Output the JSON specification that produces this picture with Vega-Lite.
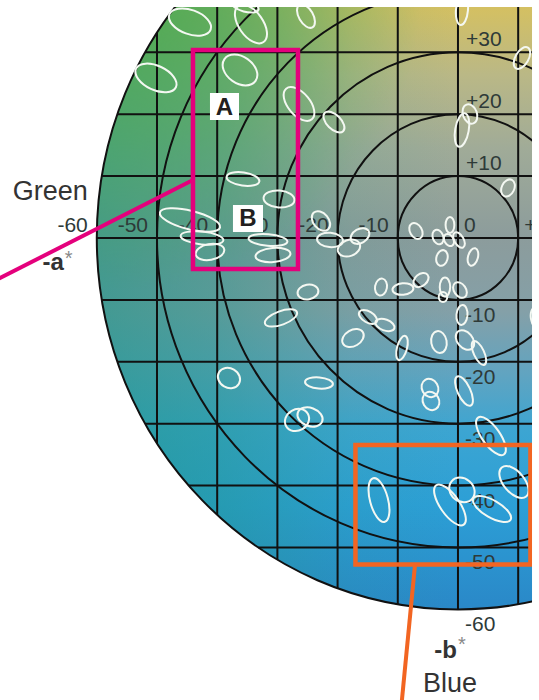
{
  "$schema": "https://vega.github.io/schema/vega-lite/v6.json",
  "width": 539,
  "height": 700,
  "autosize": {"type": "none"},
  "padding": 0,
  "background": "white",
  "config": {"view": {"stroke": null}, "axis": {"disable": true}, "legend": {"disable": true}},
  "resolve": {"scale": {"size": "independent", "shape": "independent", "angle": "independent"}},
  "datasets": {
    "disk": [{"a": 0, "b": 0, "r": 60}],
    "rings": [{"a": 0, "b": 0, "r": 10}, {"a": 0, "b": 0, "r": 20}, {"a": 0, "b": 0, "r": 30}, {"a": 0, "b": 0, "r": 40}, {"a": 0, "b": 0, "r": 50}, {"a": 0, "b": 0, "r": 60}],
    "vgrid": [
      {"a": -50, "b1": -33.17, "b2": 33.17}, {"a": -40, "b1": -44.72, "b2": 44.72}, {"a": -30, "b1": -51.96, "b2": 51.96},
      {"a": -20, "b1": -56.57, "b2": 56.57}, {"a": -10, "b1": -59.16, "b2": 59.16}, {"a": 0, "b1": -60, "b2": 60},
      {"a": 10, "b1": -59.16, "b2": 59.16}
    ],
    "hgrid": [
      {"b": 30, "a1": -51.96, "a2": 51.96}, {"b": 20, "a1": -56.57, "a2": 56.57}, {"b": 10, "a1": -59.16, "a2": 59.16},
      {"b": 0, "a1": -60, "a2": 60}, {"b": -10, "a1": -59.16, "a2": 59.16}, {"b": -20, "a1": -56.57, "a2": 56.57},
      {"b": -30, "a1": -51.96, "a2": 51.96}, {"b": -40, "a1": -44.72, "a2": 44.72}, {"b": -50, "a1": -33.17, "a2": 33.17}
    ],
    "aNeg": [{"a": -60, "b": 0, "t": "-60"}, {"a": -50, "b": 0, "t": "-50"}, {"a": -40, "b": 0, "t": "-40"}, {"a": -30, "b": 0, "t": "-30"}, {"a": -20, "b": 0, "t": "-20"}, {"a": -10, "b": 0, "t": "-10"}],
    "aPos": [{"a": 0, "b": 0, "t": "0"}, {"a": 10, "b": 0, "t": "+10"}],
    "bPos": [{"a": 0, "b": 10, "t": "+10"}, {"a": 0, "b": 20, "t": "+20"}, {"a": 0, "b": 30, "t": "+30"}],
    "bNeg": [{"a": 0, "b": -10, "t": "-10"}, {"a": 0, "b": -20, "t": "-20"}, {"a": 0, "b": -30, "t": "-30"}, {"a": 0, "b": -40, "t": "-40"}, {"a": 0, "b": -50, "t": "-50"}, {"a": 0, "b": -60, "t": "-60"}],
    "ell": [
      {"a": -44.52, "b": 34.89, "major": 7.21, "ratio": "0.55", "orient": -20},
      {"a": -34.39, "b": 34.57, "major": 7.21, "ratio": "0.55", "orient": -55},
      {"a": -35.38, "b": 37.48, "major": 4.59, "ratio": "0.4", "orient": -15},
      {"a": -25.25, "b": 35.86, "major": 4.26, "ratio": "0.55", "orient": -60},
      {"a": -50.17, "b": 25.85, "major": 7.21, "ratio": "0.55", "orient": -25},
      {"a": -36.21, "b": 27.14, "major": 6.23, "ratio": "0.7", "orient": -35},
      {"a": -26.41, "b": 21.65, "major": 6.56, "ratio": "0.55", "orient": -50},
      {"a": 0.66, "b": 36.83, "major": 4.92, "ratio": "0.4", "orient": 85},
      {"a": 10.63, "b": 29.08, "major": 3.93, "ratio": "0.55", "orient": 60},
      {"a": -20.6, "b": 18.74, "major": 4.26, "ratio": "0.55", "orient": -45},
      {"a": 1.99, "b": 20.03, "major": 3.28, "ratio": "0.7", "orient": -70},
      {"a": 0.66, "b": 17.45, "major": 5.57, "ratio": "0.4", "orient": 80},
      {"a": 8.31, "b": 8.08, "major": 2.95, "ratio": "0.7", "orient": 65},
      {"a": -35.71, "b": 9.53, "major": 5.41, "ratio": "0.4", "orient": -8},
      {"a": -29.73, "b": 6.3, "major": 5.08, "ratio": "0.55", "orient": -5},
      {"a": -44.52, "b": 2.91, "major": 10.16, "ratio": "0.3", "orient": -14},
      {"a": -42.52, "b": 0, "major": 7.05, "ratio": "0.3", "orient": -6},
      {"a": -41.2, "b": -2.26, "major": 4.75, "ratio": "0.55", "orient": 10},
      {"a": -31.56, "b": -0.32, "major": 6.39, "ratio": "0.3", "orient": -5},
      {"a": -30.73, "b": -2.75, "major": 5.74, "ratio": "0.4", "orient": 5},
      {"a": -22.76, "b": 2.75, "major": 3.61, "ratio": "0.7", "orient": -50},
      {"a": -21.26, "b": -0.32, "major": 4.26, "ratio": "0.55", "orient": -5},
      {"a": -18.11, "b": -1.62, "major": 3.77, "ratio": "0.7", "orient": 20},
      {"a": -16.28, "b": 0.32, "major": 3.28, "ratio": "0.7", "orient": 30},
      {"a": -6.98, "b": 1.13, "major": 2.79, "ratio": "0.7", "orient": -60},
      {"a": -3.32, "b": 0.16, "major": 2.46, "ratio": "0.7", "orient": -70},
      {"a": -1.33, "b": 2.1, "major": 2.62, "ratio": "0.55", "orient": -90},
      {"a": -1.5, "b": -0.32, "major": 2.13, "ratio": "0.7", "orient": -60},
      {"a": 0.17, "b": -0.32, "major": 2.79, "ratio": "0.55", "orient": -60},
      {"a": -2.66, "b": -3.23, "major": 2.62, "ratio": "0.7", "orient": 75},
      {"a": 2.49, "b": -3.07, "major": 2.95, "ratio": "0.55", "orient": 75},
      {"a": -12.79, "b": -7.92, "major": 2.79, "ratio": "0.7", "orient": 80},
      {"a": -9.14, "b": -8.24, "major": 3.44, "ratio": "0.55", "orient": 5},
      {"a": -6.15, "b": -6.79, "major": 2.79, "ratio": "0.7", "orient": 40},
      {"a": -2.16, "b": -7.92, "major": 3.11, "ratio": "0.55", "orient": 90},
      {"a": 0.33, "b": -8.4, "major": 2.79, "ratio": "0.7", "orient": -55},
      {"a": -2.49, "b": -9.53, "major": 1.64, "ratio": "0.85", "orient": 90},
      {"a": -24.92, "b": -8.72, "major": 3.44, "ratio": "0.7", "orient": 10},
      {"a": -29.4, "b": -12.92, "major": 5.57, "ratio": "0.4", "orient": 20},
      {"a": -14.95, "b": -12.76, "major": 3.28, "ratio": "0.55", "orient": -30},
      {"a": -12.13, "b": -14.05, "major": 3.28, "ratio": "0.55", "orient": -20},
      {"a": -17.44, "b": -16.16, "major": 3.77, "ratio": "0.7", "orient": 30},
      {"a": -9.3, "b": -17.77, "major": 4.1, "ratio": "0.4", "orient": 75},
      {"a": -3.16, "b": -16.8, "major": 3.61, "ratio": "0.7", "orient": -80},
      {"a": 0.66, "b": -12.44, "major": 3.28, "ratio": "0.55", "orient": 85},
      {"a": 1.16, "b": -16.48, "major": 3.61, "ratio": "0.7", "orient": -50},
      {"a": 3.49, "b": -18.58, "major": 4.26, "ratio": "0.4", "orient": -65},
      {"a": -38.04, "b": -22.62, "major": 3.77, "ratio": "0.85", "orient": -30},
      {"a": -23.09, "b": -23.42, "major": 4.59, "ratio": "0.4", "orient": -5},
      {"a": -4.65, "b": -24.23, "major": 3.11, "ratio": "0.85", "orient": -60},
      {"a": -4.49, "b": -26.33, "major": 3.11, "ratio": "0.85", "orient": -60},
      {"a": 1.0, "b": -24.72, "major": 5.25, "ratio": "0.4", "orient": -65},
      {"a": -26.74, "b": -29.4, "major": 4.1, "ratio": "0.85", "orient": 30},
      {"a": -24.58, "b": -28.92, "major": 4.26, "ratio": "0.7", "orient": -20},
      {"a": 5.48, "b": -31.99, "major": 7.38, "ratio": "0.4", "orient": -55},
      {"a": 9.3, "b": -39.42, "major": 6.23, "ratio": "0.55", "orient": -50},
      {"a": 0.66, "b": -40.71, "major": 4.43, "ratio": "0.85", "orient": -40},
      {"a": -1.33, "b": -43.13, "major": 7.87, "ratio": "0.4", "orient": -55},
      {"a": 5.65, "b": -43.78, "major": 7.05, "ratio": "0.4", "orient": -30},
      {"a": -13.12, "b": -42.33, "major": 7.38, "ratio": "0.4", "orient": -75},
      {"a": 13.12, "b": -12.92, "major": 3.61, "ratio": "0.55", "orient": -80}
    ],
    "pinkRect": [{"a1": -44.02, "a2": -26.58, "b1": 30.37, "b2": -5.01}],
    "pinkLine": [{"a": -80, "b": -8.4}, {"a": -44.02, "b": 9.37}],
    "orangeRect": [{"a1": -17.03, "a2": 12.04, "b1": -33.44, "b2": -52.75}],
    "orangeLine": [{"a": -7.14, "b": -52.83}, {"a": -9.47, "b": -76.25}],
    "boxes": [
      {"a1": -41.2, "a2": -36.38, "b1": 23.43, "b2": 19.06, "ac": -38.79, "bc": 21.24, "t": "A"},
      {"a1": -37.38, "a2": -32.39, "b1": 5.33, "b2": 0.97, "ac": -34.88, "bc": 3.15, "t": "B"}
    ],
    "strips": [
      {"a1": -80, "a2": 20, "b1": 37.32, "b2": 40},
      {"a1": 12.3, "a2": 20, "b1": -80, "b2": 40}
    ],
    "anchorA": [{"a": -60, "b": 0}],
    "anchorB": [{"a": 0, "b": -60}]
  },
  "layer": [
    {
      "data": {"name": "disk"},
      "mark": {"type": "point", "filled": true, "opacity": 1, "strokeWidth": 0,
        "shape": "M 0.9725 0 C 0.9725 0.5523 0.5371 1 0 1 C -0.5371 1 -0.9725 0.5523 -0.9725 0 C -0.9725 -0.5523 -0.5371 -1 0 -1 C 0.5371 -1 0.9725 -0.5523 0.9725 0 Z",
        "fill": {"gradient": "linear", "x1": 0, "y1": 0, "x2": 0, "y2": 1, "stops": [
          {"offset": 0, "color": "#e6b84a"}, {"offset": 0.19, "color": "#d4c062"}, {"offset": 0.28, "color": "#bab886"},
          {"offset": 0.38, "color": "#a0ab98"}, {"offset": 0.5, "color": "#8c9c9c"}, {"offset": 0.6, "color": "#84a0a8"},
          {"offset": 0.68, "color": "#62a4c0"}, {"offset": 0.76, "color": "#3ca5d2"}, {"offset": 0.86, "color": "#2c9fd6"},
          {"offset": 1, "color": "#2a88c8"}]}},
      "encoding": {
        "x": {"field": "a", "type": "quantitative", "scale": {"domain": [-76.08, 13.46], "nice": false, "zero": false}, "axis": null},
        "y": {"field": "b", "type": "quantitative", "scale": {"domain": [-74.64, 38.45], "nice": false, "zero": false}, "axis": null},
        "size": {"field": "r", "type": "quantitative", "scale": {"type": "pow", "exponent": 2, "domain": [0, 60], "range": [0, 551752]}, "legend": null}
      }
    },
    {
      "data": {"name": "disk"},
      "mark": {"type": "point", "filled": true, "opacity": 1, "strokeWidth": 0,
        "shape": "M 0.9725 0 C 0.9725 0.5523 0.5371 1 0 1 C -0.5371 1 -0.9725 0.5523 -0.9725 0 C -0.9725 -0.5523 -0.5371 -1 0 -1 C 0.5371 -1 0.9725 -0.5523 0.9725 0 Z",
        "fill": {"gradient": "linear", "x1": 0, "y1": 0, "x2": 1, "y2": 0, "stops": [
          {"offset": 0, "color": "rgba(30,150,135,0.65)"}, {"offset": 0.17, "color": "rgba(30,150,135,0.45)"},
          {"offset": 0.35, "color": "rgba(35,150,130,0.12)"}, {"offset": 0.5, "color": "rgba(40,150,130,0)"},
          {"offset": 1, "color": "rgba(40,150,130,0)"}]}},
      "encoding": {
        "x": {"field": "a", "type": "quantitative", "scale": {"domain": [-76.08, 13.46], "nice": false, "zero": false}, "axis": null},
        "y": {"field": "b", "type": "quantitative", "scale": {"domain": [-74.64, 38.45], "nice": false, "zero": false}, "axis": null},
        "size": {"field": "r", "type": "quantitative", "scale": {"type": "pow", "exponent": 2, "domain": [0, 60], "range": [0, 551752]}, "legend": null}
      }
    },
    {
      "data": {"name": "disk"},
      "mark": {"type": "point", "filled": true, "opacity": 1, "strokeWidth": 0,
        "shape": "M 0.9725 0 C 0.9725 0.5523 0.5371 1 0 1 C -0.5371 1 -0.9725 0.5523 -0.9725 0 C -0.9725 -0.5523 -0.5371 -1 0 -1 C 0.5371 -1 0.9725 -0.5523 0.9725 0 Z",
        "fill": {"gradient": "radial", "x1": 0.05, "y1": 0.17, "r1": 0, "x2": 0.05, "y2": 0.17, "r2": 0.4, "stops": [
          {"offset": 0, "color": "rgba(75,172,70,0.8)"}, {"offset": 0.5, "color": "rgba(75,172,75,0.45)"},
          {"offset": 1, "color": "rgba(75,172,80,0)"}]}},
      "encoding": {
        "x": {"field": "a", "type": "quantitative", "scale": {"domain": [-76.08, 13.46], "nice": false, "zero": false}, "axis": null},
        "y": {"field": "b", "type": "quantitative", "scale": {"domain": [-74.64, 38.45], "nice": false, "zero": false}, "axis": null},
        "size": {"field": "r", "type": "quantitative", "scale": {"type": "pow", "exponent": 2, "domain": [0, 60], "range": [0, 551752]}, "legend": null}
      }
    },
    {
      "data": {"name": "vgrid"},
      "mark": {"type": "rule", "color": "#111111", "strokeWidth": 2},
      "encoding": {
        "x": {"field": "a", "type": "quantitative", "scale": {"domain": [-76.08, 13.46], "nice": false, "zero": false}, "axis": null},
        "y": {"field": "b1", "type": "quantitative", "scale": {"domain": [-74.64, 38.45], "nice": false, "zero": false}, "axis": null},
        "y2": {"field": "b2"}
      }
    },
    {
      "data": {"name": "hgrid"},
      "mark": {"type": "rule", "color": "#111111", "strokeWidth": 2},
      "encoding": {
        "y": {"field": "b", "type": "quantitative", "scale": {"domain": [-74.64, 38.45], "nice": false, "zero": false}, "axis": null},
        "x": {"field": "a1", "type": "quantitative", "scale": {"domain": [-76.08, 13.46], "nice": false, "zero": false}, "axis": null},
        "x2": {"field": "a2"}
      }
    },
    {
      "data": {"name": "rings"},
      "mark": {"type": "point", "filled": false, "opacity": 1, "color": "#111111", "strokeWidth": 2,
        "shape": "M 0.9725 0 C 0.9725 0.5523 0.5371 1 0 1 C -0.5371 1 -0.9725 0.5523 -0.9725 0 C -0.9725 -0.5523 -0.5371 -1 0 -1 C 0.5371 -1 0.9725 -0.5523 0.9725 0 Z"},
      "encoding": {
        "x": {"field": "a", "type": "quantitative", "scale": {"domain": [-76.08, 13.46], "nice": false, "zero": false}, "axis": null},
        "y": {"field": "b", "type": "quantitative", "scale": {"domain": [-74.64, 38.45], "nice": false, "zero": false}, "axis": null},
        "size": {"field": "r", "type": "quantitative", "scale": {"type": "pow", "exponent": 2, "domain": [0, 60], "range": [0, 551752]}, "legend": null}
      }
    },
    {
      "data": {"name": "aNeg"},
      "mark": {"type": "text", "align": "right", "baseline": "alphabetic", "dx": -9, "dy": -6, "font": "Liberation Sans", "fontSize": 21, "color": "#2e3a38"},
      "encoding": {
        "x": {"field": "a", "type": "quantitative", "scale": {"domain": [-76.08, 13.46], "nice": false, "zero": false}, "axis": null},
        "y": {"field": "b", "type": "quantitative", "scale": {"domain": [-74.64, 38.45], "nice": false, "zero": false}, "axis": null},
        "text": {"field": "t"}
      }
    },
    {
      "data": {"name": "aPos"},
      "mark": {"type": "text", "align": "left", "baseline": "alphabetic", "dx": 6, "dy": -6, "font": "Liberation Sans", "fontSize": 21, "color": "#2e3a38"},
      "encoding": {
        "x": {"field": "a", "type": "quantitative", "scale": {"domain": [-76.08, 13.46], "nice": false, "zero": false}, "axis": null},
        "y": {"field": "b", "type": "quantitative", "scale": {"domain": [-74.64, 38.45], "nice": false, "zero": false}, "axis": null},
        "text": {"field": "t"}
      }
    },
    {
      "data": {"name": "bPos"},
      "mark": {"type": "text", "align": "left", "baseline": "alphabetic", "dx": 8, "dy": -6, "font": "Liberation Sans", "fontSize": 21, "color": "#2e3a38"},
      "encoding": {
        "x": {"field": "a", "type": "quantitative", "scale": {"domain": [-76.08, 13.46], "nice": false, "zero": false}, "axis": null},
        "y": {"field": "b", "type": "quantitative", "scale": {"domain": [-74.64, 38.45], "nice": false, "zero": false}, "axis": null},
        "text": {"field": "t"}
      }
    },
    {
      "data": {"name": "bNeg"},
      "mark": {"type": "text", "align": "left", "baseline": "alphabetic", "dx": 7, "dy": 22, "font": "Liberation Sans", "fontSize": 21, "color": "#2e3a38"},
      "encoding": {
        "x": {"field": "a", "type": "quantitative", "scale": {"domain": [-76.08, 13.46], "nice": false, "zero": false}, "axis": null},
        "y": {"field": "b", "type": "quantitative", "scale": {"domain": [-74.64, 38.45], "nice": false, "zero": false}, "axis": null},
        "text": {"field": "t"}
      }
    },
    {
      "data": {"name": "ell"},
      "mark": {"type": "point", "filled": false, "opacity": 1, "color": "#f4f8f2", "strokeWidth": 2},
      "encoding": {
        "x": {"field": "a", "type": "quantitative", "scale": {"domain": [-76.08, 13.46], "nice": false, "zero": false}, "axis": null},
        "y": {"field": "b", "type": "quantitative", "scale": {"domain": [-74.64, 38.45], "nice": false, "zero": false}, "axis": null},
        "size": {"field": "major", "type": "quantitative", "scale": {"type": "pow", "exponent": 2, "domain": [0, 10], "range": [0, 3721]}, "legend": null},
        "shape": {"field": "ratio", "type": "nominal", "legend": null, "scale": {
          "domain": ["0.3", "0.4", "0.55", "0.7", "0.85"],
          "range": [
            "M 1 0 C 1 0.1657 0.5523 0.3 0 0.3 C -0.5523 0.3 -1 0.1657 -1 0 C -1 -0.1657 -0.5523 -0.3 0 -0.3 C 0.5523 -0.3 1 -0.1657 1 0 Z",
            "M 1 0 C 1 0.2209 0.5523 0.4 0 0.4 C -0.5523 0.4 -1 0.2209 -1 0 C -1 -0.2209 -0.5523 -0.4 0 -0.4 C 0.5523 -0.4 1 -0.2209 1 0 Z",
            "M 1 0 C 1 0.3038 0.5523 0.55 0 0.55 C -0.5523 0.55 -1 0.3038 -1 0 C -1 -0.3038 -0.5523 -0.55 0 -0.55 C 0.5523 -0.55 1 -0.3038 1 0 Z",
            "M 1 0 C 1 0.3866 0.5523 0.7 0 0.7 C -0.5523 0.7 -1 0.3866 -1 0 C -1 -0.3866 -0.5523 -0.7 0 -0.7 C 0.5523 -0.7 1 -0.3866 1 0 Z",
            "M 1 0 C 1 0.4695 0.5523 0.85 0 0.85 C -0.5523 0.85 -1 0.4695 -1 0 C -1 -0.4695 -0.5523 -0.85 0 -0.85 C 0.5523 -0.85 1 -0.4695 1 0 Z"
          ]}},
        "angle": {"field": "orient", "type": "quantitative", "scale": {"domain": [-180, 180], "range": [180, -180]}, "legend": null}
      }
    },
    {
      "data": {"name": "pinkRect"},
      "mark": {"type": "rect", "fill": "transparent", "stroke": "#e4007c", "strokeWidth": 4.5},
      "encoding": {
        "x": {"field": "a1", "type": "quantitative", "scale": {"domain": [-76.08, 13.46], "nice": false, "zero": false}, "axis": null},
        "x2": {"field": "a2"},
        "y": {"field": "b1", "type": "quantitative", "scale": {"domain": [-74.64, 38.45], "nice": false, "zero": false}, "axis": null},
        "y2": {"field": "b2"}
      }
    },
    {
      "data": {"name": "pinkLine"},
      "mark": {"type": "line", "color": "#e4007c", "strokeWidth": 4},
      "encoding": {
        "x": {"field": "a", "type": "quantitative", "scale": {"domain": [-76.08, 13.46], "nice": false, "zero": false}, "axis": null},
        "y": {"field": "b", "type": "quantitative", "scale": {"domain": [-74.64, 38.45], "nice": false, "zero": false}, "axis": null}
      }
    },
    {
      "data": {"name": "orangeRect"},
      "mark": {"type": "rect", "fill": "transparent", "stroke": "#f26522", "strokeWidth": 4.5},
      "encoding": {
        "x": {"field": "a1", "type": "quantitative", "scale": {"domain": [-76.08, 13.46], "nice": false, "zero": false}, "axis": null},
        "x2": {"field": "a2"},
        "y": {"field": "b1", "type": "quantitative", "scale": {"domain": [-74.64, 38.45], "nice": false, "zero": false}, "axis": null},
        "y2": {"field": "b2"}
      }
    },
    {
      "data": {"name": "orangeLine"},
      "mark": {"type": "line", "color": "#f26522", "strokeWidth": 4},
      "encoding": {
        "x": {"field": "a", "type": "quantitative", "scale": {"domain": [-76.08, 13.46], "nice": false, "zero": false}, "axis": null},
        "y": {"field": "b", "type": "quantitative", "scale": {"domain": [-74.64, 38.45], "nice": false, "zero": false}, "axis": null}
      }
    },
    {
      "data": {"name": "boxes"},
      "mark": {"type": "rect", "fill": "white", "strokeWidth": 0},
      "encoding": {
        "x": {"field": "a1", "type": "quantitative", "scale": {"domain": [-76.08, 13.46], "nice": false, "zero": false}, "axis": null},
        "x2": {"field": "a2"},
        "y": {"field": "b1", "type": "quantitative", "scale": {"domain": [-74.64, 38.45], "nice": false, "zero": false}, "axis": null},
        "y2": {"field": "b2"}
      }
    },
    {
      "data": {"name": "boxes"},
      "mark": {"type": "text", "align": "center", "baseline": "middle", "font": "Liberation Sans", "fontWeight": "bold", "fontSize": 24, "color": "#231f20", "dy": 1},
      "encoding": {
        "x": {"field": "ac", "type": "quantitative", "scale": {"domain": [-76.08, 13.46], "nice": false, "zero": false}, "axis": null},
        "y": {"field": "bc", "type": "quantitative", "scale": {"domain": [-74.64, 38.45], "nice": false, "zero": false}, "axis": null},
        "text": {"field": "t"}
      }
    },
    {
      "data": {"name": "strips"},
      "mark": {"type": "rect", "fill": "white", "strokeWidth": 0},
      "encoding": {
        "x": {"field": "a1", "type": "quantitative", "scale": {"domain": [-76.08, 13.46], "nice": false, "zero": false}, "axis": null},
        "x2": {"field": "a2"},
        "y": {"field": "b1", "type": "quantitative", "scale": {"domain": [-74.64, 38.45], "nice": false, "zero": false}, "axis": null},
        "y2": {"field": "b2"}
      }
    },
    {
      "data": {"name": "anchorA"},
      "mark": {"type": "text", "text": "Green", "align": "right", "baseline": "alphabetic", "dx": -9, "dy": -38, "font": "Liberation Sans", "fontSize": 27, "color": "#333333"},
      "encoding": {
        "x": {"field": "a", "type": "quantitative", "scale": {"domain": [-76.08, 13.46], "nice": false, "zero": false}, "axis": null},
        "y": {"field": "b", "type": "quantitative", "scale": {"domain": [-74.64, 38.45], "nice": false, "zero": false}, "axis": null}
      }
    },
    {
      "data": {"name": "anchorA"},
      "mark": {"type": "text", "text": "-a", "align": "right", "baseline": "alphabetic", "dx": -33, "dy": 32, "font": "Liberation Sans", "fontWeight": "bold", "fontSize": 24, "color": "#333333"},
      "encoding": {
        "x": {"field": "a", "type": "quantitative", "scale": {"domain": [-76.08, 13.46], "nice": false, "zero": false}, "axis": null},
        "y": {"field": "b", "type": "quantitative", "scale": {"domain": [-74.64, 38.45], "nice": false, "zero": false}, "axis": null}
      }
    },
    {
      "data": {"name": "anchorA"},
      "mark": {"type": "text", "text": "*", "align": "left", "baseline": "alphabetic", "dx": -32, "dy": 27, "font": "Liberation Sans", "fontSize": 20, "color": "#888888"},
      "encoding": {
        "x": {"field": "a", "type": "quantitative", "scale": {"domain": [-76.08, 13.46], "nice": false, "zero": false}, "axis": null},
        "y": {"field": "b", "type": "quantitative", "scale": {"domain": [-74.64, 38.45], "nice": false, "zero": false}, "axis": null}
      }
    },
    {
      "data": {"name": "anchorB"},
      "mark": {"type": "text", "text": "-b", "align": "right", "baseline": "alphabetic", "dx": -1, "dy": 49, "font": "Liberation Sans", "fontWeight": "bold", "fontSize": 24, "color": "#333333"},
      "encoding": {
        "x": {"field": "a", "type": "quantitative", "scale": {"domain": [-76.08, 13.46], "nice": false, "zero": false}, "axis": null},
        "y": {"field": "b", "type": "quantitative", "scale": {"domain": [-74.64, 38.45], "nice": false, "zero": false}, "axis": null}
      }
    },
    {
      "data": {"name": "anchorB"},
      "mark": {"type": "text", "text": "*", "align": "left", "baseline": "alphabetic", "dx": 0, "dy": 42, "font": "Liberation Sans", "fontSize": 20, "color": "#888888"},
      "encoding": {
        "x": {"field": "a", "type": "quantitative", "scale": {"domain": [-76.08, 13.46], "nice": false, "zero": false}, "axis": null},
        "y": {"field": "b", "type": "quantitative", "scale": {"domain": [-74.64, 38.45], "nice": false, "zero": false}, "axis": null}
      }
    },
    {
      "data": {"name": "anchorB"},
      "mark": {"type": "text", "text": "Blue", "align": "left", "baseline": "alphabetic", "dx": -35, "dy": 83, "font": "Liberation Sans", "fontSize": 27, "color": "#333333"},
      "encoding": {
        "x": {"field": "a", "type": "quantitative", "scale": {"domain": [-76.08, 13.46], "nice": false, "zero": false}, "axis": null},
        "y": {"field": "b", "type": "quantitative", "scale": {"domain": [-74.64, 38.45], "nice": false, "zero": false}, "axis": null}
      }
    }
  ]
}
